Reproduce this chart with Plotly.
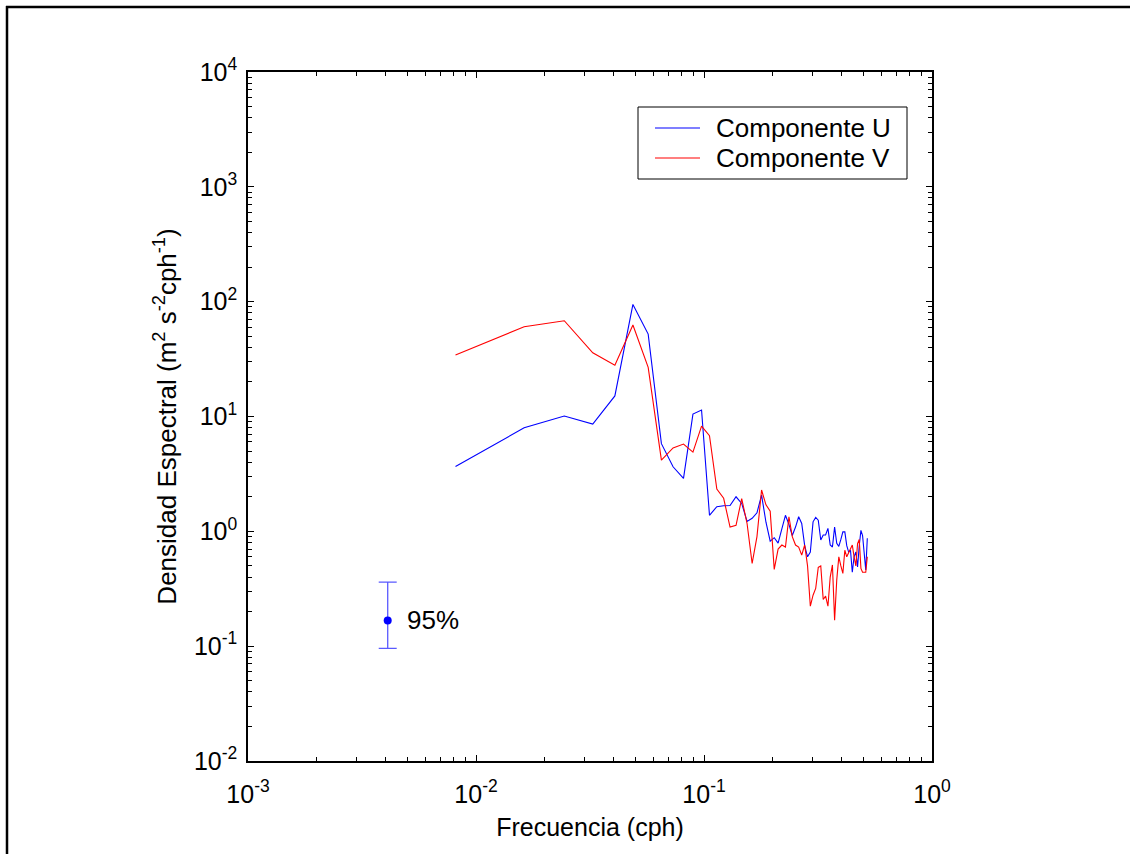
import math
import plotly.graph_objects as go

# Frequencies (cph)
freq = [0.00813, 0.01626, 0.02439, 0.03252, 0.04065, 0.04878, 0.05691, 0.06504,
        0.07317, 0.08130, 0.08943, 0.09756, 0.10569, 0.11382, 0.12195, 0.13008,
        0.13821, 0.14634, 0.15447, 0.16260, 0.17073, 0.17886, 0.18699, 0.19512,
        0.20325, 0.21138, 0.21951, 0.22764, 0.23577, 0.24390, 0.25203, 0.26016,
        0.26829, 0.27642, 0.28455, 0.29268, 0.30081, 0.30894, 0.31707, 0.32520,
        0.33333, 0.34146, 0.34959, 0.35772, 0.36585, 0.37398, 0.38211, 0.39024,
        0.39837, 0.40650, 0.41463, 0.42276, 0.43089, 0.43902, 0.44715, 0.45528,
        0.46341, 0.47154, 0.47967, 0.48780, 0.49593, 0.50407, 0.51220, 0.52033]

comp_u = [3.67, 7.97, 10.1, 8.6, 15.1, 94.6, 52.2, 5.8,
          3.65, 2.89, 10.5, 11.4, 1.38, 1.64, 1.67, 1.68,
          2.0, 1.75, 1.22, 1.3, 1.45, 2.07, 1.2, 0.82,
          0.88, 0.79, 1.05, 1.38, 1.15, 0.92, 1.09, 1.34,
          1.17, 0.75, 0.60, 0.66, 1.21, 1.32, 1.25, 0.84,
          0.93, 0.93, 1.06, 0.76, 0.73, 1.09, 0.785, 0.74,
          0.85, 0.99, 0.99, 0.75, 0.66, 0.685, 0.44, 0.6,
          0.66, 0.49, 0.75, 1.02, 0.92, 0.6, 0.46, 0.87]

comp_v = [34.3, 60.5, 68.2, 35.9, 28.0, 62.6, 26.8, 4.17,
          5.33, 5.75, 4.9, 8.25, 6.8, 2.33, 1.94, 1.09,
          1.13, 1.93, 1.17, 0.525, 0.9, 2.29, 1.7, 1.5,
          0.466, 0.7, 0.76, 0.73, 1.34, 0.9, 0.76, 0.73,
          0.62, 0.76, 0.5, 0.223, 0.278, 0.318, 0.485, 0.50,
          0.255, 0.273, 0.223, 0.40, 0.51, 0.168, 0.376, 0.60,
          0.50, 0.43, 0.685, 0.60, 0.65, 0.71, 0.76, 0.6,
          0.5, 0.78, 0.85, 0.475, 0.44, 0.44, 0.44, 0.6]

series_names = ["Componente U", "Componente V"]
series_colors = ["#0000ff", "#ff0000"]

# 95% confidence interval marker
ci_x = 0.0041
ci_center = 0.1675
ci_upper = 0.361
ci_lower = 0.0955
ci_label = "95%"
ci_label_x = 0.0049

x_tickvals = [0.001, 0.01, 0.1, 1]
x_ticktext = ["10<sup>-3</sup>", "10<sup>-2</sup>", "10<sup>-1</sup>", "10<sup>0</sup>"]
y_tickvals = [0.01, 0.1, 1, 10, 100, 1000, 10000]
y_ticktext = ["10<sup>-2</sup>", "10<sup>-1</sup>", "10<sup>0</sup>", "10<sup>1</sup>",
              "10<sup>2</sup>", "10<sup>3</sup>", "10<sup>4</sup>"]

FONT = "Liberation Sans, Arial, sans-serif"

# layout geometry (pixels)
W, H = 1130, 854
ML, MR, MT, MB = 248, 198, 72, 93
PW, PH = W - ML - MR, H - MT - MB


def px(xp):
    return (xp - ML) / PW


def py(yp):
    return 1 - (yp - MT) / PH


fig = go.Figure()
for name, vals, col in zip(series_names, [comp_u, comp_v], series_colors):
    fig.add_trace(go.Scatter(x=freq, y=vals, mode="lines", name=name,
                             showlegend=False, line=dict(color=col, width=1.1)))
fig.add_trace(go.Scatter(
    x=[ci_x], y=[ci_center], mode="markers", showlegend=False,
    marker=dict(color="#0000ff", size=8),
    error_y=dict(type="data", symmetric=False,
                 array=[ci_upper - ci_center], arrayminus=[ci_center - ci_lower],
                 color="#5a5aff", thickness=1.3, width=9)))

fig.add_annotation(x=math.log10(ci_label_x), y=math.log10(ci_center), text=ci_label,
                   showarrow=False, xanchor="left", yanchor="middle",
                   font=dict(family=FONT, size=26, color="black"))

axis_common = dict(
    type="log", showline=True, linecolor="black", linewidth=1.5,
    mirror="allticks", ticks="inside", ticklen=6, tickwidth=1, tickcolor="black",
    showgrid=False, zeroline=False, tickmode="array",
    tickfont=dict(family=FONT, size=25, color="black"),
    minor=dict(ticks="inside", ticklen=4, tickwidth=1, tickcolor="black",
               showgrid=False, dtick="D1"),
)

fig.update_xaxes(**axis_common, range=[-3, 0], tickvals=x_tickvals, ticktext=x_ticktext,
                 ticklabelstandoff=10,
                 title=dict(text="Frecuencia (cph)", standoff=12,
                            font=dict(family=FONT, size=25, color="black")))
fig.update_yaxes(**axis_common, range=[-2, 4], tickvals=y_tickvals, ticktext=y_ticktext,
                 ticklabelstandoff=4,
                 title=dict(text="Densidad Espectral (m<sup>2</sup> s<sup>-2</sup>cph<sup>-1</sup>)",
                            standoff=10,
                            font=dict(family=FONT, size=26, color="black")))

# legend box (drawn manually to match the original proportions)
fig.add_shape(type="rect", xref="paper", yref="paper",
              x0=px(638), x1=px(907), y0=py(179), y1=py(107),
              line=dict(color="black", width=1), fillcolor="white", layer="above")
for i, (name, col) in enumerate(zip(series_names, series_colors)):
    yy = py(128 + 30 * i)
    fig.add_shape(type="line", xref="paper", yref="paper",
                  x0=px(655), x1=px(700), y0=yy, y1=yy,
                  line=dict(color=col, width=1.1), layer="above")
    fig.add_annotation(xref="paper", yref="paper", x=px(714), y=yy, text=name,
                       showarrow=False, xanchor="left", yanchor="middle",
                       font=dict(family=FONT, size=26, color="black"))

# outer frame lines (top and left)
fig.add_shape(type="line", xref="paper", yref="paper", x0=px(6), x1=px(1140),
              y0=py(7), y1=py(7), line=dict(color="black", width=2.5))
fig.add_shape(type="line", xref="paper", yref="paper", x0=px(7), x1=px(7),
              y0=py(6), y1=py(870), line=dict(color="black", width=2.5))

fig.update_layout(
    width=W, height=H, autosize=False,
    margin=dict(l=ML, r=MR, t=MT, b=MB),
    paper_bgcolor="white", plot_bgcolor="white",
    font=dict(family=FONT, color="black"),
    showlegend=False,
)

fig.write_html("out.html")
